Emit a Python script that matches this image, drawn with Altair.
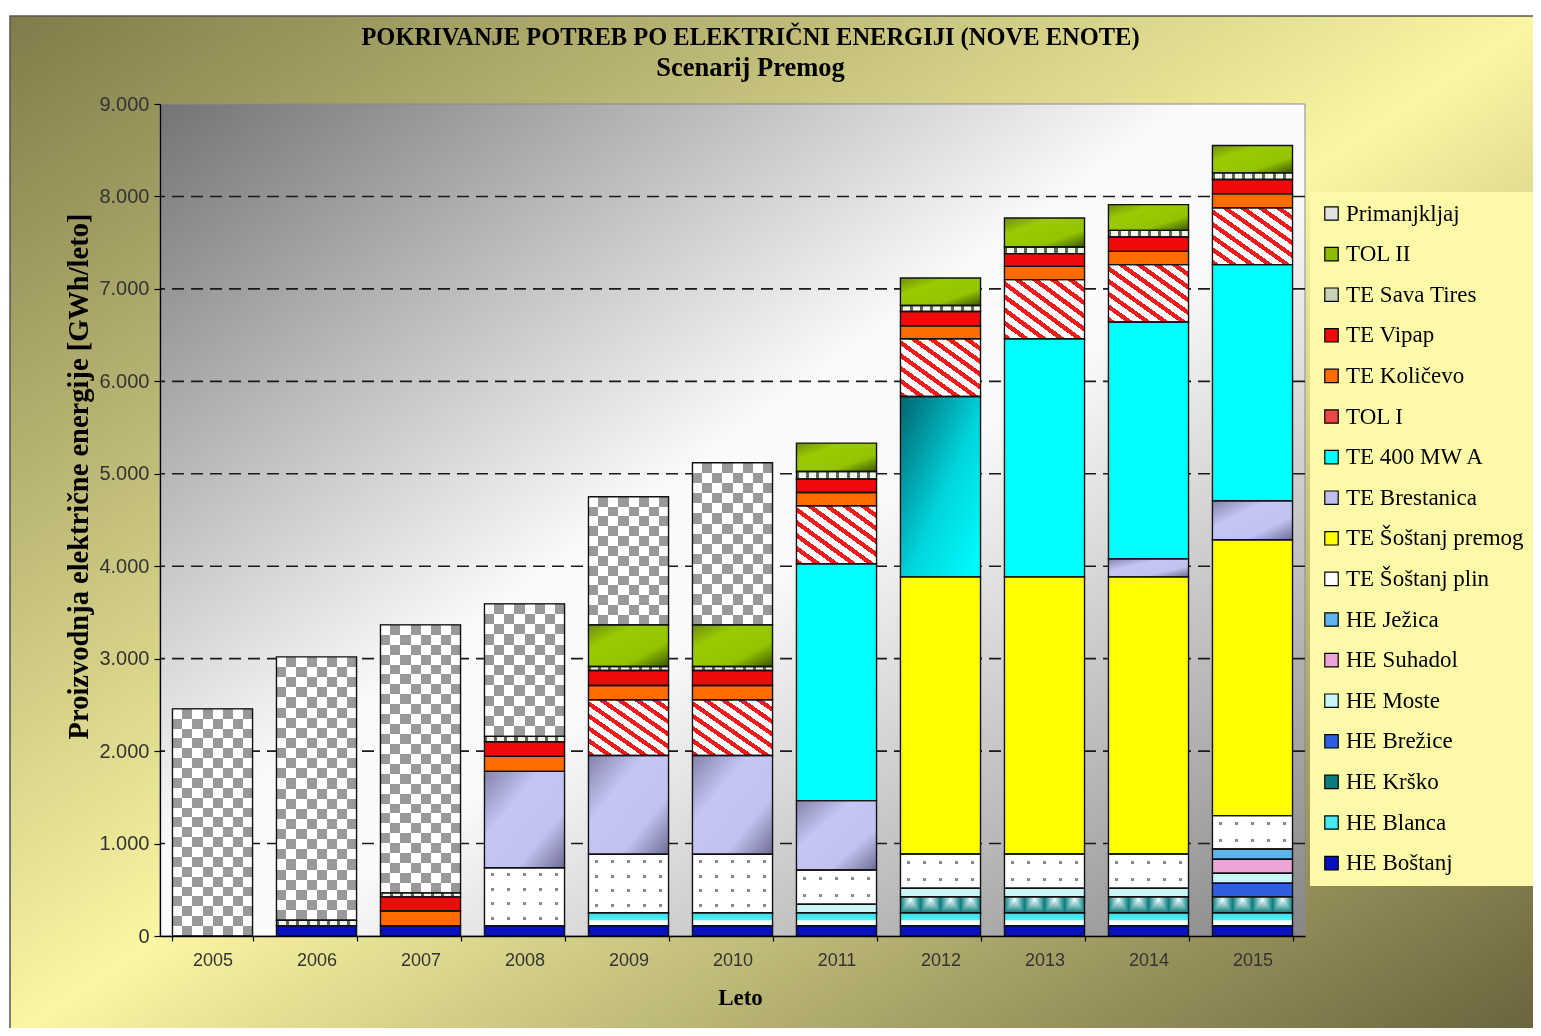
import altair as alt
import pandas as pd

# ---------------- data ----------------
YEARS = ["2005", "2006", "2007", "2008", "2009", "2010", "2011", "2012", "2013", "2014", "2015"]

HE_BOSTANJ = [0, 111, 111, 111, 111, 111, 111, 111, 111, 111, 111]
HE_BLANCA = [0, 0, 0, 0, 141, 141, 141, 141, 141, 141, 141]
HE_KRSKO = [0, 0, 0, 0, 0, 0, 0, 173, 173, 173, 173]
HE_BREZICE = [0, 0, 0, 0, 0, 0, 0, 0, 0, 0, 145]
HE_MOSTE = [0, 0, 0, 0, 0, 0, 91, 91, 91, 91, 108]
HE_SUHADOL = [0, 0, 0, 0, 0, 0, 0, 0, 0, 0, 152]
HE_JEZICA = [0, 0, 0, 0, 0, 0, 0, 0, 0, 0, 111]
TE_SOSTANJ_PLIN = [0, 0, 0, 628, 632, 632, 371, 371, 371, 371, 361]
TE_SOSTANJ_PREMOG = [0, 0, 0, 0, 0, 0, 0, 2998, 2998, 2998, 2984]
TE_BRESTANICA = [0, 0, 0, 1042, 1068, 1068, 750, 0, 0, 195, 422]
TE_400MW_A = [0, 0, 0, 0, 0, 0, 2562, 1951, 2576, 2562, 2554]
TOL_I = [0, 0, 0, 0, 603, 603, 628, 624, 639, 620, 614]
TE_KOLICEVO = [0, 0, 160, 162, 155, 155, 144, 141, 144, 144, 152]
TE_VIPAP = [0, 0, 152, 159, 162, 162, 145, 155, 137, 156, 155]
TE_SAVA_TIRES = [0, 60, 43, 57, 43, 43, 82, 65, 72, 71, 72]
TOL_II = [0, 0, 0, 0, 451, 451, 307, 297, 314, 278, 296]
PRIMANJKLJAJ = [2457, 2848, 2900, 1434, 1385, 1753, 0, 0, 0, 0, 0]

Y_TICKS = [0, 1000, 2000, 3000, 4000, 5000, 6000, 7000, 8000, 9000]
GRID_VALUES = [1000, 2000, 3000, 4000, 5000, 6000, 7000, 8000]

TITLE = "POKRIVANJE POTREB PO ELEKTRIČNI ENERGIJI (NOVE ENOTE)"
SUBTITLE = "Scenarij Premog"
Y_TITLE = "Proizvodnja električne energije [GWh/leto]"
X_TITLE = "Leto"

# stacking order: bottom -> top
SERIES = [
    ("HE Boštanj", HE_BOSTANJ, "#0612c0"),
    ("HE Blanca", HE_BLANCA, "#48e8f0"),
    ("HE Krško", HE_KRSKO, "#0b7d7d"),
    ("HE Brežice", HE_BREZICE, "#2d5fe0"),
    ("HE Moste", HE_MOSTE, "#c8f6f6"),
    ("HE Suhadol", HE_SUHADOL, "#eda5d8"),
    ("HE Ježica", HE_JEZICA, "#60b4ee"),
    ("TE Šoštanj plin", TE_SOSTANJ_PLIN, "#ffffff"),
    ("TE Šoštanj premog", TE_SOSTANJ_PREMOG, "#ffff00"),
    ("TE Brestanica", TE_BRESTANICA, "#c0c0f0"),
    ("TE 400 MW A", TE_400MW_A, "#00ffff"),
    ("TOL I", TOL_I, "#e84848"),
    ("TE Količevo", TE_KOLICEVO, "#ff6d00"),
    ("TE Vipap", TE_VIPAP, "#f00a0a"),
    ("TE Sava Tires", TE_SAVA_TIRES, "#c8d2b8"),
    ("TOL II", TOL_II, "#8cbc00"),
    ("Primanjkljaj", PRIMANJKLJAJ, "#e2e2e2"),
]

rows = []
for order, (name, vals, _c) in enumerate(SERIES):
    for yr, v in zip(YEARS, vals):
        if v > 0:
            rows.append({"year": yr, "series": name, "value": v, "order": order})
df = pd.DataFrame(rows)

LEGEND_ORDER = [s[0] for s in SERIES][::-1]
LEGEND_COLORS = [s[2] for s in SERIES][::-1]
VALUES = {s[0]: dict(zip(YEARS, s[1])) for s in SERIES}

# ---------------- layout ----------------
W, H = 1145, 832
YMAX = 9000
PAD = {"left": 152, "top": 96, "right": 228, "bottom": 92}


def px(v):
    return v * H / YMAX


def grad(stops, direction):
    d = {"h": (0, 0, 1, 0), "v": (0, 0, 0, 1), "d": (0, 1, 1, 0), "dd": (0, 0, 1, 1)}[direction]
    return {"gradient": "linear", "x1": d[0], "y1": d[1], "x2": d[2], "y2": d[3], "stops": stops}


def cells(colors, n, direction):
    stops = []
    for k in range(n):
        c = colors[k % len(colors)]
        stops.append({"offset": k / n, "color": c})
        stops.append({"offset": (k + 1) / n, "color": c})
    return grad(stops, direction)


def lines(c_line, c_bg, n, frac, direction):
    stops = []
    for k in range(n):
        a, b = k / n, (k + 1) / n
        l0, l1 = (k + 0.5 - frac / 2) / n, (k + 0.5 + frac / 2) / n
        stops += [{"offset": a, "color": c_bg}, {"offset": l0, "color": c_bg},
                  {"offset": l0, "color": c_line}, {"offset": l1, "color": c_line},
                  {"offset": l1, "color": c_bg}, {"offset": b, "color": c_bg}]
    return grad(stops, direction)


def stripes(c_on, c_off, n, frac, direction):
    stops = []
    for k in range(n):
        a, m, b = k / n, (k + frac) / n, (k + 1) / n
        stops += [{"offset": a, "color": c_on}, {"offset": m, "color": c_on},
                  {"offset": m, "color": c_off}, {"offset": b, "color": c_off}]
    return grad(stops, direction)


def tri(c_edge, c_mid, n, direction):
    stops = []
    for k in range(n):
        stops += [{"offset": k / n, "color": c_edge},
                  {"offset": (k + 0.5) / n, "color": c_mid},
                  {"offset": (k + 1) / n, "color": c_edge}]
    return grad(stops, direction)


FONT_SANS = "Liberation Sans"
FONT_SERIF = "Liberation Serif"

x_scale = alt.Scale(paddingInner=0.23, paddingOuter=0.12)
y_scale = alt.Scale(domain=[0, YMAX], nice=False, zero=True)

x_axis = alt.Axis(
    labelAngle=0, tickBand="extent", tickSize=5, tickColor="black", tickWidth=1.2,
    domainColor="black", domainWidth=1.3, labelFont=FONT_SANS, labelFontSize=18,
    labelColor="#333333", labelPadding=10, grid=False, zindex=1,
    titleFont=FONT_SERIF, titleFontSize=23, titleFontWeight="bold", titleColor="black",
    titleX=580, titleY=61, titleBaseline="middle", titleAlign="center",
)
y_axis = alt.Axis(
    values=Y_TICKS, labelExpr="replace(format(datum.value, ','), ',', '.')",
    tickSize=6, tickColor="black", tickWidth=1.2, domainColor="black", domainWidth=1.3,
    labelFont=FONT_SANS, labelFontSize=20, labelColor="#333333", labelPadding=5,
    grid=False, zindex=1,
    titleFont=FONT_SERIF, titleFontSize=28.5, titleFontWeight="bold", titleColor="black",
    titleX=-82, titleY=372, titleBaseline="middle", titleAlign="center",
)

X_ENC = alt.X("year:N", sort=YEARS, scale=x_scale, axis=x_axis, title=X_TITLE)


def Y_ENC(field):
    return alt.Y(field, scale=y_scale, axis=y_axis, title=Y_TITLE)


base = alt.Chart(df).transform_stack(
    stack="value", groupby=["year"], as_=["y0", "y1"],
    sort=[alt.SortField("order", order="ascending")],
)


def bar_layer(series, fill, year=None, blend=None):
    cond = alt.datum.series == series
    if year is not None:
        cond = cond & (alt.datum.year == year)
    mk = {"fill": fill}
    if blend:
        mk["blend"] = blend
    return base.transform_filter(cond).mark_bar(**mk).encode(
        x=X_ENC, y=Y_ENC("y0:Q"), y2=alt.Y2("y1:Q"))


one = alt.Data(values=[{"k": 1}])

# outer gradient panel
outer_bg = alt.Chart(one).mark_rect(
    fill=grad([{"offset": 0, "color": "#7f7c4a"}, {"offset": 0.5, "color": "#faf6a2"},
               {"offset": 1, "color": "#67623a"}], "dd"),
    stroke="#555555", strokeWidth=1.5,
).encode(x=alt.value(-150), x2=alt.value(W + PAD["right"] + 10),
         y=alt.value(-88), y2=alt.value(H + PAD["bottom"] + 10))

# plot-area gradient
plot_bg = alt.Chart(one).mark_rect(
    fill=grad([{"offset": 0, "color": "#747474"}, {"offset": 0.45, "color": "#fafafa"},
               {"offset": 0.55, "color": "#fbfbfb"}, {"offset": 1, "color": "#868686"}], "dd"),
    stroke="#8a8a8a", strokeWidth=1,
).encode(x=alt.value(0), x2=alt.value(W), y=alt.value(0), y2=alt.value(H))

grid = alt.Chart(pd.DataFrame({"v": GRID_VALUES})).mark_rule(
    color="#1a1a1a", strokeDash=[12, 7], strokeWidth=1.6
).encode(y=Y_ENC("v:Q"))

solid = base.mark_bar().encode(
    x=X_ENC, y=Y_ENC("y0:Q"), y2=alt.Y2("y1:Q"),
    color=alt.Color("series:N", scale=alt.Scale(domain=LEGEND_ORDER, range=LEGEND_COLORS),
                    legend=alt.Legend(
                        orient="none", legendX=1150, legendY=88, title=None,
                        labelFont=FONT_SERIF, labelFontSize=23, labelColor="black",
                        symbolType="square", symbolSize=180, symbolStrokeColor="black",
                        symbolStrokeWidth=1.2, rowPadding=16.6, padding=10,
                        fillColor="#fcf9a9", labelLimit=400, labelOffset=3, zindex=1)),
)

layers = [outer_bg, plot_bg, grid, solid]

# Primanjkljaj: checkerboard via difference blending
layers.append(bar_layer("Primanjkljaj", cells(["#000000", "#666666"], 8, "h")))
for yr in YEARS:
    v = VALUES["Primanjkljaj"][yr]
    if v > 0:
        n = max(2, round(px(v) / 10))
        layers.append(bar_layer("Primanjkljaj", cells(["#000000", "#666666"], n, "v"),
                                year=yr, blend="difference"))
layers.append(bar_layer("Primanjkljaj", "#ffffff", blend="difference"))

# TE Šoštanj plin: dots via lighten blending
layers.append(bar_layer("TE Šoštanj plin", lines("#8a8a8a", "#ffffff", 5, 0.19, "h")))
for yr in YEARS:
    v = VALUES["TE Šoštanj plin"][yr]
    if v > 0:
        h = px(v)
        n = max(1, round(h / 14))
        layers.append(bar_layer("TE Šoštanj plin",
                                lines("#8a8a8a", "#ffffff", n, min(0.5, 3 / (h / n)), "v"),
                                year=yr, blend="lighten"))

# TOL I: red / white diagonal stripes
layers.append(bar_layer("TOL I", stripes("#ee1c1c", "#ffffff", 9, 0.42, "d")))
# HE Krško: teal with light triangles
layers.append(bar_layer("HE Krško", tri("#0b7d7d", "#e8ffff", 4, "h")))
layers.append(bar_layer("HE Krško", grad([{"offset": 0, "color": "#ffffff"},
                                           {"offset": 0.15, "color": "#ffffff"},
                                           {"offset": 1, "color": "#0b7d7d"}], "v"),
                        blend="darken"))
# HE Blanca: cyan with a white band
layers.append(bar_layer("HE Blanca", grad([{"offset": 0, "color": "#30e2ec"},
                                            {"offset": 0.55, "color": "#50eef4"},
                                            {"offset": 0.62, "color": "#ffffff"},
                                            {"offset": 1, "color": "#f0ffff"}], "v")))
# TE Sava Tires: light band with dark dashes
layers.append(bar_layer("TE Sava Tires", stripes("#5a6a4c", "#eef5ea", 8, 0.3, "h")))
# TE Brestanica: lavender with shading
layers.append(bar_layer("TE Brestanica", grad([{"offset": 0, "color": "#8282aa"},
                                                {"offset": 0.35, "color": "#c6c6f6"},
                                                {"offset": 0.7, "color": "#c2c2f2"},
                                                {"offset": 1, "color": "#6c6c92"}], "dd")))
# TOL II: green with shading
layers.append(bar_layer("TOL II", grad([{"offset": 0, "color": "#6e8e12"},
                                         {"offset": 0.3, "color": "#9acb00"},
                                         {"offset": 0.7, "color": "#93c400"},
                                         {"offset": 1, "color": "#3a5400"}], "dd")))
# TE 400 MW A in 2012: teal shading
layers.append(bar_layer("TE 400 MW A", grad([{"offset": 0, "color": "#00646e"},
                                              {"offset": 0.55, "color": "#00d6de"},
                                              {"offset": 1, "color": "#00ffff"}], "dd"),
                        year="2012"))

outline = base.mark_bar(fillOpacity=0, stroke="#111111", strokeWidth=1.4).encode(
    x=X_ENC, y=Y_ENC("y0:Q"), y2=alt.Y2("y1:Q"))
layers.append(outline)

chart = alt.layer(*layers).properties(
    width=W, height=H,
    autosize=alt.AutoSizeParams(type="none"),
    padding=PAD,
    background="white",
    title=alt.Title(
        text=TITLE, subtitle=SUBTITLE, font=FONT_SERIF, fontSize=24.5, fontWeight="bold",
        color="black", subtitleFont=FONT_SERIF, subtitleFontSize=26.5,
        subtitleFontWeight="bold", subtitleColor="black", subtitlePadding=4,
        anchor="middle", frame="group", dx=18, offset=-67,
    ),
).configure_view(strokeWidth=0)

chart.save("out.html", embed_options={"renderer": "svg", "actions": False})
